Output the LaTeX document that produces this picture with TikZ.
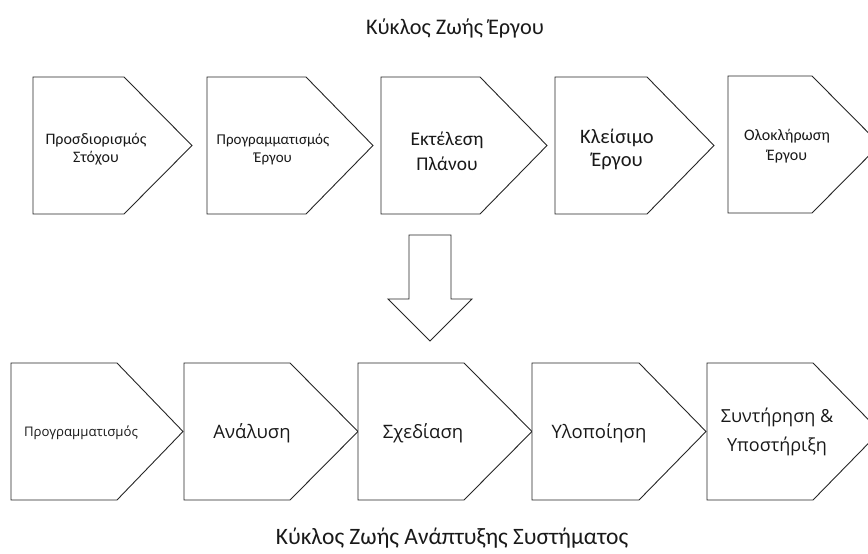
\documentclass[tikz,border=0pt]{standalone}
\usepackage{fontspec}
\setmainfont{Carlito}
\newfontfamily\stagefont{Open Sans}
\begin{document}
\begin{tikzpicture}[x=1pt,y=-1pt,
  outline/.style={draw=black!85, line width=0.9pt, fill=white, line join=miter},
  lbl/.style={align=center, inner sep=0pt, text=black!90},
  title/.style={inner sep=0pt, text=black!90},
]
% home-plate step: left x, shoulder x, tip x, top y, bottom y
\newcommand\homeplate[5]{%
  \draw[outline] (#1,#4) -- (#2,#4) -- (#3,{(#4+#5)/2}) -- (#2,#5) -- (#1,#5) -- cycle;}
\useasboundingbox (0,0) rectangle (868,554);
\clip (0,0) rectangle (868,554);

\node[title, font=\fontsize{22.3}{26}\selectfont] (ptitle) at (455,28) {Κύκλος Ζωής Έργου};

% project life cycle
\homeplate{33}{124}{192}{77}{214}
\homeplate{207}{306}{373}{77}{214}
\homeplate{381}{480}{547}{77}{214}
\homeplate{555}{647}{714}{77}{214}
\homeplate{728}{812}{880}{76}{213}
\node[lbl, font=\fontsize{16}{18}\selectfont] (p1) at (96,149) {Προσδιορισμός\\Στόχου};
\node[lbl, font=\fontsize{15}{18}\selectfont] (p2) at (273,149) {Προγραμματισμός\\Έργου};
\node[lbl, font=\fontsize{19.4}{25}\selectfont] (p3) at (447,151) {Εκτέλεση\\Πλάνου};
\node[lbl, font=\fontsize{20.5}{23}\selectfont] (p4) at (617,149) {Κλείσιμο\\Έργου};
\node[lbl, font=\fontsize{16}{20}\selectfont] (p5) at (787,146) {Ολοκλήρωση\\Έργου};

% transition arrow
\draw[outline] (409,235) -- (451,235) -- (451,299) -- (472,299) -- (430,341)
  -- (388,299) -- (409,299) -- cycle;

% system development life cycle
\homeplate{11}{117}{183}{363}{500}
\homeplate{184}{290}{358}{363}{500}
\homeplate{358}{464}{532}{363}{500}
\homeplate{532}{639}{706}{363}{500}
\homeplate{707}{813}{880}{363}{500}
\node[lbl, font=\stagefont\fontsize{13.2}{16}\selectfont] (s1) at (81,433) {Προγραμματισμός};
\node[lbl, font=\stagefont\fontsize{18.5}{22}\selectfont] (s2) at (252,433) {Ανάλυση};
\node[lbl, font=\stagefont\fontsize{18.5}{22}\selectfont] (s3) at (423,433) {Σχεδίαση};
\node[lbl, font=\stagefont\fontsize{18.5}{22}\selectfont] (s4) at (599,433) {Υλοποίηση};
\node[lbl, font=\stagefont\fontsize{18}{29}\selectfont] (s5) at (777,432) {Συντήρηση \&\\Υποστήριξη};

\node[title, font=\fontsize{23.5}{28}\selectfont] (stitle) at (452,538) {Κύκλος Ζωής Ανάπτυξης Συστήματος};
\end{tikzpicture}
\end{document}
